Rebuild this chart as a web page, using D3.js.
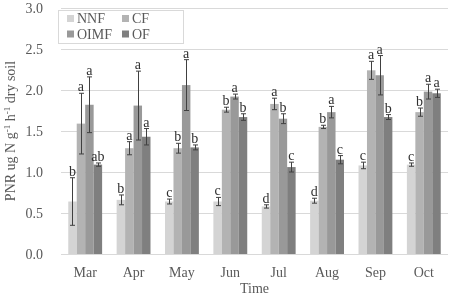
<html lang="en">
<head>
  <meta charset="UTF-8">
  <title>PNR by month</title>
  <script src="https://d3js.org/d3.v7.min.js"></script>
  <style>
    body { margin: 0; background: white; }
    svg { filter: grayscale(1); }
    text { font-family: "Liberation Serif", "Times New Roman", serif; fill: #595959; }
    text.sig { fill: #303030; }
  </style>
</head>
<body>
  <svg id="chart" width="454" height="298"></svg>
  <script>
    // data
    const months = ["Mar", "Apr", "May", "Jun", "Jul", "Aug", "Sep", "Oct"];
    const treatments = ["NNF", "CF", "OIMF", "OF"];
    const colors = ["#d4d4d4", "#b3b3b3", "#999999", "#7f7f7f"];

    const nnf = [0.64, 0.66, 0.64, 0.64, 0.58, 0.65, 1.08, 1.09];
    const cf = [1.59, 1.29, 1.29, 1.76, 1.83, 1.55, 2.24, 1.73];
    const oimf = [1.82, 1.81, 2.06, 1.92, 1.65, 1.73, 2.18, 1.98];
    const of = [1.09, 1.43, 1.30, 1.67, 1.06, 1.15, 1.67, 1.96];

    const nnfErr = [0.29, 0.06, 0.03, 0.05, 0.02, 0.03, 0.04, 0.02];
    const cfErr = [0.37, 0.08, 0.06, 0.03, 0.07, 0.02, 0.11, 0.05];
    const oimfErr = [0.34, 0.42, 0.31, 0.03, 0.06, 0.07, 0.24, 0.09];
    const ofErr = [0.02, 0.10, 0.03, 0.04, 0.06, 0.05, 0.03, 0.05];

    const nnfSig = ["b", "b", "c", "c", "d", "d", "c", "c"];
    const cfSig = ["a", "a", "b", "b", "a", "b", "a", "b"];
    const oimfSig = ["a", "a", "a", "a", "b", "a", "a", "a"];
    const ofSig = ["ab", "a", "b", "b", "c", "c", "b", "a"];

    const yTicks = [0, 0.5, 1.0, 1.5, 2.0, 2.5, 3.0];

    const values = [nnf, cf, oimf, of];
    const errs = [nnfErr, cfErr, oimfErr, ofErr];
    const sigs = [nnfSig, cfSig, oimfSig, ofSig];

    const svg = d3.select("#chart");
    const margin = { top: 8, right: 6, bottom: 44, left: 61 };
    const width = +svg.attr("width");
    const height = +svg.attr("height");

    const x0 = d3.scaleBand().domain(months)
      .range([margin.left, width - margin.right])
      .paddingInner(0.3).paddingOuter(0.15);
    const x1 = d3.scaleBand().domain(treatments).range([0, x0.bandwidth()]);
    const y = d3.scaleLinear().domain([0, 3]).range([height - margin.bottom, margin.top]);

    // gridlines
    svg.append("g").selectAll("line").data(yTicks)
      .join("line")
      .attr("x1", margin.left).attr("x2", width - margin.right)
      .attr("y1", d => Math.round(y(d)) + 0.5).attr("y2", d => Math.round(y(d)) + 0.5)
      .attr("stroke", "#d9d9d9").attr("stroke-width", 1);

    // y tick labels
    svg.append("g").selectAll("text").data(yTicks)
      .join("text")
      .attr("x", 43).attr("y", d => y(d))
      .attr("dy", "0.35em")
      .attr("text-anchor", "end")
      .attr("font-size", 14)
      .text(d => d.toFixed(1));

    // flatten to one record per bar
    const bars = [];
    treatments.forEach((t, i) => {
      months.forEach((m, j) => {
        bars.push({ t: t, m: m, v: values[i][j], e: errs[i][j], s: sigs[i][j], c: colors[i] });
      });
    });

    const g = svg.append("g");
    g.selectAll("rect").data(bars)
      .join("rect")
      .attr("x", d => x0(d.m) + x1(d.t))
      .attr("width", x1.bandwidth())
      .attr("y", d => y(d.v))
      .attr("height", d => y(0) - y(d.v))
      .attr("fill", d => d.c);

    // error bars
    const eb = g.selectAll("g.err").data(bars).join("g").attr("class", "err")
      .attr("stroke", "#404040").attr("stroke-width", 1);
    const cx = d => Math.round(x0(d.m) + x1(d.t) + x1.bandwidth() / 2) + 0.5;
    eb.append("line")
      .attr("x1", cx).attr("x2", cx)
      .attr("y1", d => y(d.v + d.e)).attr("y2", d => y(d.v - d.e));
    eb.append("line")
      .attr("x1", d => cx(d) - 2.5).attr("x2", d => cx(d) + 2.5)
      .attr("y1", d => y(d.v + d.e)).attr("y2", d => y(d.v + d.e));
    eb.append("line")
      .attr("x1", d => cx(d) - 2.5).attr("x2", d => cx(d) + 2.5)
      .attr("y1", d => y(d.v - d.e)).attr("y2", d => y(d.v - d.e));

    // significance letters
    g.selectAll("text.sig").data(bars)
      .join("text")
      .attr("class", "sig")
      .attr("x", d => x0(d.m) + x1(d.t) + x1.bandwidth() / 2)
      .attr("y", d => y(d.v + d.e) - 2)
      .attr("text-anchor", "middle")
      .attr("font-size", 14)
      .text(d => d.s);

    // month labels
    svg.append("g").selectAll("text").data(months)
      .join("text")
      .attr("x", d => x0(d) + x0.bandwidth() / 2)
      .attr("y", 277)
      .attr("text-anchor", "middle")
      .attr("font-size", 14)
      .text(d => d);

    svg.append("text")
      .attr("x", (margin.left + width - margin.right) / 2)
      .attr("y", 293)
      .attr("text-anchor", "middle")
      .attr("font-size", 14)
      .text("Time");

    // y axis title with superscripts
    const yt = svg.append("text")
      .attr("transform", "translate(15," + y(1.5) + ") rotate(-90)")
      .attr("text-anchor", "middle")
      .attr("font-size", 14);
    yt.append("tspan").text("PNR ug N g");
    yt.append("tspan").attr("font-size", 9).attr("dy", -5).text("-1");
    yt.append("tspan").attr("dy", 5).text(" h");
    yt.append("tspan").attr("font-size", 9).attr("dy", -5).text("-1");
    yt.append("tspan").attr("dy", 5).text(" dry soil");

    // legend
    const lg = svg.append("g");
    lg.append("rect")
      .attr("x", 58.5).attr("y", 10.5).attr("width", 125).attr("height", 33)
      .attr("fill", "white").attr("stroke", "#d9d9d9");
    const item = lg.selectAll("g.item").data(treatments)
      .join("g").attr("class", "item")
      .attr("transform", (d, i) => "translate(" + (i % 2 === 0 ? 67 : 122) + "," + (i < 2 ? 18.5 : 34) + ")");
    item.append("rect")
      .attr("x", 0).attr("y", -3.5).attr("width", 7).attr("height", 7)
      .attr("fill", (d, i) => colors[i]);
    item.append("text")
      .attr("x", 10).attr("y", 0).attr("dy", "0.35em")
      .attr("font-size", 14)
      .text(d => d);
  </script>
</body>
</html>
